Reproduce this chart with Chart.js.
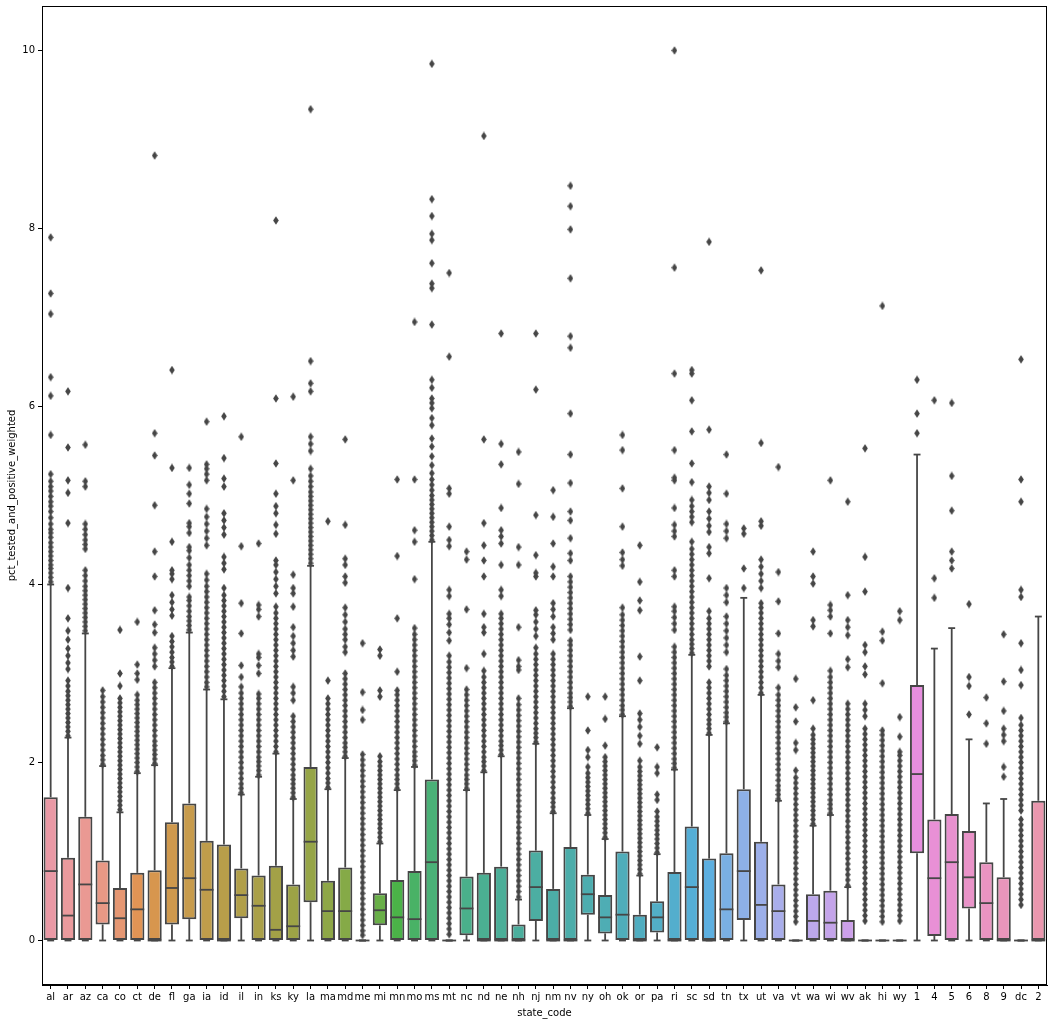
<!DOCTYPE html>
<html>
<head>
  <meta charset="UTF-8">
  <title>pct_tested_and_positive_weighted by state_code</title>
  <script src="https://cdn.jsdelivr.net/npm/chart.js"></script>
  <style>
    body { margin: 0; background: #fff; }
  </style>
</head>
<body>
  <canvas id="boxChart" width="1053" height="1024"></canvas>

  <script>
    // categories and box statistics
    const labels = ['al','ar','az','ca','co','ct','de','fl','ga','ia','id','il','in','ks','ky','la','ma','md','me','mi',
      'mn','mo','ms','mt','nc','nd','ne','nh','nj','nm','nv','ny','oh','ok','or','pa','ri','sc','sd','tn',
      'tx','ut','va','vt','wa','wi','wv','ak','hi','wy','1','4','5','6','8','9','dc','2'];
    const q1 = [0,0,0,0.18,0,0,0,0.18,0.24,0, 0,0.25,0,0,0,0.43,0,0,0,0.17,
      0,0,0,0,0.06,0,0,0,0.22,0, 0,0.29,0.08,0,0,0.09,0,0,0,0,
      0.23,0,0,0,0,0,0,0,0,0, 0.98,0.05,0,0.36,0,0,0,0];
    const median = [0.78,0.28,0.63,0.42,0.25,0.35,0,0.59,0.70,0.57, 0,0.51,0.39,0.12,0.16,1.11,0.33,0.33,0,0.34,
      0.26,0.24,0.88,0,0.36,0,0,0,0.60,0, 0,0.52,0.26,0.29,0,0.26,0,0.60,0,0.35,
      0.78,0.40,0.33,0,0.22,0.20,0,0,0,0, 1.87,0.70,0.88,0.71,0.42,0,0,0];
    const q3 = [1.61,0.93,1.39,0.90,0.59,0.76,0.79,1.33,1.54,1.12, 1.08,0.81,0.73,0.84,0.63,1.95,0.67,0.82,0,0.53,
      0.68,0.78,1.81,0,0.72,0.76,0.83,0.18,1.01,0.58, 1.05,0.74,0.51,1.00,0.29,0.44,0.77,1.28,0.92,0.98,
      1.70,1.11,0.63,0,0.52,0.56,0.23,0,0,0, 2.87,1.36,1.42,1.23,0.88,0.71,0,1.57];
    const whiskerLow = labels.map(() => 0);
    const whiskerHigh = [4.00,2.28,3.45,1.96,1.44,1.88,1.97,3.06,3.46,2.82, 2.71,1.64,1.84,2.10,1.59,4.21,1.70,2.05,0,1.09,
      1.69,1.95,4.48,0,1.69,1.89,2.07,0.46,2.21,1.43, 2.61,1.41,1.14,2.52,0.73,0.97,1.92,3.21,2.31,2.44,
      3.85,2.76,1.57,0,1.29,1.41,0.60,0,0,0, 5.46,3.28,3.51,2.26,1.54,1.59,0,3.64];

    // outlier values per category, same order as labels
    const fliers = [
      [4.03,4.08,4.13,4.18,4.22,4.27,4.32,4.37,4.42,4.47,4.53,4.58,4.62,4.68,4.75,4.82,4.88,4.93,4.99,5.05,5.10,5.16,5.24,5.68,6.12,6.33,7.04,7.27,7.90],
      [2.30,2.35,2.40,2.45,2.50,2.55,2.60,2.65,2.70,2.75,2.80,2.86,2.92,3.05,3.12,3.20,3.28,3.38,3.48,3.62,3.96,4.69,5.03,5.17,5.54,6.17],
      [3.48,3.53,3.58,3.63,3.68,3.73,3.78,3.83,3.88,3.93,3.98,4.04,4.10,4.16,4.40,4.45,4.50,4.56,4.62,4.68,5.10,5.16,5.57],
      [1.98,2.03,2.08,2.14,2.20,2.26,2.32,2.38,2.44,2.50,2.56,2.62,2.68,2.74,2.81],
      [1.47,1.52,1.57,1.62,1.67,1.72,1.77,1.82,1.87,1.92,1.97,2.02,2.07,2.12,2.17,2.22,2.27,2.32,2.37,2.42,2.47,2.52,2.57,2.62,2.67,2.72,2.86,3.00,3.49],
      [1.90,1.95,2.00,2.05,2.10,2.15,2.20,2.25,2.30,2.35,2.40,2.45,2.50,2.55,2.60,2.65,2.70,2.76,2.93,3.00,3.10,3.58],
      [1.99,2.04,2.09,2.14,2.19,2.24,2.30,2.36,2.42,2.48,2.54,2.60,2.66,2.72,2.78,2.84,2.90,3.08,3.15,3.22,3.29,3.46,3.55,3.71,4.09,4.37,4.89,5.45,5.70,8.82],
      [3.08,3.13,3.18,3.24,3.30,3.36,3.42,3.65,3.72,3.80,3.88,4.06,4.12,4.16,4.48,5.31,6.41],
      [3.49,3.54,3.59,3.64,3.70,3.76,3.82,3.86,3.98,4.04,4.10,4.16,4.22,4.30,4.38,4.42,4.58,4.65,4.69,4.91,5.02,5.12,5.31],
      [2.85,2.90,2.96,3.02,3.08,3.14,3.20,3.26,3.32,3.38,3.44,3.50,3.56,3.62,3.68,3.74,3.80,3.86,3.92,3.98,4.05,4.12,4.44,4.52,4.60,4.68,4.76,4.85,5.17,5.24,5.30,5.35,5.83],
      [2.74,2.80,2.86,2.92,2.98,3.04,3.10,3.16,3.22,3.28,3.34,3.40,3.46,3.52,3.58,3.64,3.70,3.76,3.82,3.88,3.96,4.17,4.24,4.31,4.56,4.64,4.72,4.80,5.10,5.19,5.42,5.89],
      [1.66,1.71,1.76,1.82,1.88,1.94,2.00,2.06,2.12,2.18,2.24,2.30,2.36,2.42,2.48,2.54,2.60,2.66,2.72,2.78,2.85,2.96,3.09,3.45,3.79,4.43,5.66],
      [1.86,1.91,1.96,2.01,2.06,2.12,2.18,2.24,2.30,2.36,2.42,2.48,2.54,2.60,2.66,2.72,2.77,3.00,3.09,3.18,3.22,3.64,3.72,3.77,4.46],
      [2.12,2.18,2.24,2.30,2.36,2.42,2.48,2.54,2.60,2.66,2.72,2.78,2.84,2.90,2.96,3.02,3.08,3.14,3.20,3.26,3.32,3.38,3.44,3.50,3.56,3.62,3.68,3.75,3.90,3.98,4.06,4.14,4.22,4.27,4.57,4.67,4.80,4.88,5.02,5.36,6.09,8.09],
      [1.61,1.66,1.71,1.76,1.81,1.86,1.92,1.98,2.04,2.10,2.16,2.22,2.28,2.34,2.40,2.46,2.52,2.70,2.78,2.85,3.19,3.26,3.34,3.42,3.52,3.75,3.90,3.96,4.11,5.17,6.11],
      [4.24,4.29,4.34,4.39,4.44,4.49,4.54,4.59,4.64,4.69,4.74,4.79,4.84,4.89,4.94,4.99,5.04,5.10,5.16,5.22,5.30,5.50,5.58,5.66,6.17,6.26,6.51,9.34],
      [1.72,1.77,1.82,1.88,1.94,2.00,2.06,2.12,2.18,2.24,2.30,2.36,2.42,2.48,2.54,2.60,2.66,2.72,2.92,4.71],
      [2.07,2.12,2.17,2.22,2.28,2.34,2.40,2.46,2.52,2.58,2.64,2.70,2.76,2.82,2.88,2.94,3.00,3.24,3.30,3.38,3.44,3.50,3.58,3.66,3.74,4.02,4.09,4.22,4.29,4.67,5.63],
      [0.06,0.11,0.17,0.23,0.29,0.35,0.41,0.47,0.53,0.59,0.65,0.71,0.77,0.83,0.89,0.95,1.01,1.07,1.13,1.19,1.25,1.31,1.37,1.43,1.49,1.55,1.61,1.67,1.73,1.79,1.85,1.91,1.97,2.03,2.09,2.48,2.59,2.79,3.34],
      [1.11,1.16,1.21,1.26,1.31,1.36,1.41,1.46,1.51,1.56,1.61,1.66,1.71,1.76,1.81,1.86,1.91,1.96,2.01,2.07,2.74,2.81,3.20,3.27],
      [1.71,1.76,1.81,1.86,1.92,1.98,2.04,2.10,2.16,2.22,2.28,2.34,2.40,2.46,2.52,2.58,2.64,2.70,2.76,2.81,3.02,3.62,4.32,5.18],
      [1.97,2.02,2.07,2.12,2.18,2.24,2.30,2.36,2.42,2.48,2.54,2.60,2.66,2.72,2.78,2.84,2.90,2.96,3.02,3.08,3.14,3.20,3.26,3.32,3.38,3.44,3.51,4.06,4.48,4.61,5.18,6.95],
      [4.50,4.55,4.60,4.65,4.70,4.75,4.80,4.85,4.90,4.95,5.00,5.06,5.12,5.18,5.25,5.34,5.44,5.55,5.64,5.79,5.87,5.98,6.04,6.09,6.21,6.30,6.92,7.33,7.38,7.61,7.87,7.94,8.14,8.33,9.85],
      [0.07,0.13,0.19,0.25,0.31,0.37,0.43,0.49,0.55,0.61,0.67,0.73,0.79,0.85,0.91,0.97,1.03,1.09,1.15,1.21,1.27,1.33,1.39,1.45,1.51,1.57,1.63,1.69,1.75,1.81,1.87,1.93,1.99,2.05,2.11,2.17,2.23,2.29,2.35,2.41,2.47,2.53,2.59,2.65,2.71,2.77,2.83,2.89,2.95,3.01,3.07,3.13,3.20,3.37,3.46,3.55,3.62,3.67,3.87,3.94,4.43,4.50,4.65,5.02,5.08,6.56,7.50],
      [1.71,1.76,1.81,1.86,1.92,1.98,2.04,2.10,2.16,2.22,2.28,2.34,2.40,2.46,2.52,2.58,2.64,2.70,2.76,2.82,3.06,3.72,4.28,4.37],
      [1.91,1.96,2.01,2.06,2.12,2.18,2.24,2.30,2.36,2.42,2.48,2.54,2.60,2.66,2.72,2.78,2.84,2.90,2.96,3.03,3.22,3.46,3.52,3.67,4.09,4.27,4.44,4.69,5.63,9.04],
      [2.09,2.14,2.19,2.24,2.30,2.36,2.42,2.48,2.54,2.60,2.66,2.72,2.78,2.84,2.90,2.96,3.02,3.08,3.14,3.20,3.26,3.32,3.38,3.44,3.50,3.56,3.62,3.67,3.87,3.94,4.22,4.46,4.54,4.61,4.86,5.35,5.58,6.82],
      [0.49,0.55,0.61,0.67,0.73,0.79,0.85,0.91,0.97,1.03,1.09,1.15,1.21,1.27,1.33,1.39,1.45,1.51,1.57,1.63,1.69,1.75,1.81,1.87,1.93,1.99,2.05,2.11,2.17,2.23,2.29,2.35,2.41,2.47,2.53,2.59,2.65,2.72,3.04,3.08,3.15,3.52,4.22,4.42,5.13,5.49],
      [2.23,2.28,2.33,2.38,2.44,2.50,2.56,2.62,2.68,2.74,2.80,2.86,2.92,2.98,3.04,3.10,3.16,3.22,3.29,3.42,3.50,3.58,3.66,3.71,4.09,4.13,4.33,4.78,6.19,6.82],
      [1.45,1.50,1.55,1.60,1.66,1.72,1.78,1.84,1.90,1.96,2.02,2.08,2.14,2.20,2.26,2.32,2.38,2.44,2.50,2.56,2.62,2.68,2.74,2.80,2.86,2.92,2.98,3.04,3.10,3.16,3.22,3.38,3.45,3.52,3.64,3.72,3.79,4.09,4.20,4.46,4.76,5.06],
      [2.63,2.68,2.73,2.78,2.84,2.90,2.96,3.02,3.08,3.14,3.20,3.26,3.32,3.37,3.49,3.55,3.61,3.67,3.73,3.79,3.85,3.91,3.97,4.03,4.09,4.27,4.35,4.52,4.72,4.82,5.14,5.46,5.92,6.66,6.79,7.44,7.99,8.25,8.48],
      [1.43,1.48,1.53,1.58,1.63,1.68,1.73,1.78,1.83,1.88,1.95,2.06,2.14,2.36,2.74],
      [1.16,1.21,1.26,1.31,1.36,1.41,1.46,1.51,1.56,1.61,1.66,1.71,1.76,1.81,1.86,1.91,1.96,2.01,2.06,2.19,2.49,2.74],
      [2.54,2.59,2.64,2.70,2.76,2.82,2.88,2.94,3.00,3.06,3.12,3.18,3.24,3.30,3.36,3.42,3.48,3.54,3.60,3.66,3.74,4.21,4.28,4.36,4.65,5.08,5.51,5.68],
      [0.75,0.80,0.85,0.90,0.95,1.00,1.05,1.10,1.15,1.20,1.25,1.30,1.35,1.40,1.45,1.50,1.55,1.60,1.65,1.70,1.75,1.80,1.85,1.90,1.95,2.02,2.21,2.30,2.40,2.48,2.55,2.92,3.19,3.71,3.82,4.03,4.44],
      [0.99,1.04,1.09,1.14,1.19,1.24,1.29,1.34,1.39,1.45,1.58,1.64,1.88,1.95,2.17],
      [1.94,1.99,2.04,2.10,2.16,2.22,2.28,2.34,2.40,2.46,2.52,2.58,2.64,2.70,2.76,2.82,2.88,2.94,3.00,3.06,3.12,3.18,3.24,3.30,3.49,3.56,3.63,3.70,3.75,4.09,4.16,4.54,4.60,4.67,4.86,5.17,5.20,5.51,6.37,7.56,10.0],
      [3.23,3.28,3.33,3.38,3.44,3.50,3.56,3.62,3.68,3.74,3.80,3.86,3.92,3.98,4.04,4.10,4.16,4.22,4.28,4.34,4.40,4.48,4.70,4.76,4.82,4.88,4.95,5.15,5.36,5.72,6.07,6.37,6.41],
      [2.33,2.38,2.43,2.48,2.54,2.60,2.66,2.72,2.78,2.84,2.90,3.08,3.14,3.20,3.26,3.32,3.38,3.44,3.50,3.56,3.62,3.70,4.07,4.35,4.42,4.59,4.66,4.74,4.82,4.95,5.03,5.10,5.74,7.85],
      [2.46,2.51,2.56,2.62,2.68,2.74,2.80,2.86,2.92,2.98,3.05,3.24,3.32,3.40,3.48,3.56,3.64,3.80,3.88,3.96,4.52,4.60,4.68,5.02,5.46],
      [3.96,4.18,4.57,4.63],
      [2.78,2.84,2.90,2.96,3.02,3.08,3.14,3.20,3.26,3.32,3.38,3.44,3.50,3.56,3.62,3.68,3.74,3.79,3.96,4.04,4.12,4.20,4.28,4.66,4.71,5.59,7.53],
      [1.59,1.64,1.69,1.74,1.80,1.86,1.92,1.98,2.04,2.10,2.16,2.22,2.28,2.34,2.40,2.46,2.52,2.58,2.64,2.70,2.76,2.84,3.07,3.14,3.22,3.45,3.81,4.14,5.32],
      [0.21,0.27,0.33,0.39,0.45,0.51,0.57,0.63,0.69,0.75,0.81,0.87,0.93,0.99,1.05,1.11,1.17,1.23,1.29,1.35,1.41,1.47,1.53,1.59,1.65,1.71,1.77,1.83,1.91,2.14,2.22,2.46,2.62,2.94],
      [1.31,1.36,1.41,1.46,1.51,1.56,1.61,1.66,1.71,1.76,1.81,1.86,1.91,1.96,2.01,2.06,2.11,2.16,2.21,2.26,2.31,2.38,2.70,3.53,3.60,4.01,4.09,4.37],
      [1.43,1.48,1.53,1.58,1.64,1.70,1.76,1.82,1.88,1.94,2.00,2.06,2.12,2.18,2.24,2.30,2.36,2.42,2.48,2.54,2.60,2.66,2.72,2.78,2.84,2.90,2.96,3.03,3.45,3.64,3.71,3.77,5.17],
      [0.62,0.68,0.74,0.80,0.86,0.92,0.98,1.04,1.10,1.16,1.22,1.28,1.34,1.40,1.46,1.52,1.58,1.64,1.70,1.76,1.82,1.88,1.94,2.00,2.06,2.12,2.18,2.24,2.30,2.36,2.42,2.48,2.54,2.60,2.66,3.07,3.16,3.43,3.52,3.60,3.88,4.93],
      [0.22,0.28,0.34,0.40,0.46,0.52,0.58,0.64,0.70,0.76,0.82,0.88,0.94,1.00,1.06,1.12,1.18,1.24,1.30,1.36,1.42,1.48,1.54,1.60,1.66,1.72,1.78,1.84,1.90,1.96,2.02,2.08,2.14,2.20,2.26,2.32,2.38,2.52,2.59,2.66,2.99,3.08,3.24,3.32,3.92,4.31,5.53],
      [0.21,0.27,0.33,0.39,0.45,0.51,0.57,0.63,0.69,0.75,0.81,0.87,0.93,0.99,1.05,1.11,1.17,1.23,1.29,1.35,1.41,1.47,1.53,1.59,1.65,1.71,1.77,1.83,1.89,1.95,2.01,2.07,2.13,2.19,2.25,2.31,2.36,2.89,3.37,3.47,7.13],
      [0.22,0.28,0.34,0.40,0.46,0.52,0.58,0.64,0.70,0.76,0.82,0.88,0.94,1.00,1.06,1.12,1.18,1.24,1.30,1.36,1.42,1.48,1.54,1.60,1.66,1.72,1.78,1.84,1.90,1.96,2.02,2.08,2.12,2.29,2.51,3.60,3.70],
      [5.70,5.92,6.30],
      [3.85,4.07,6.07],
      [4.18,4.27,4.37,4.83,5.22,6.04],
      [2.54,2.86,2.96,3.78],
      [2.21,2.44,2.73],
      [1.84,1.95,2.24,2.31,2.38,2.58,2.91,3.44],
      [0.40,0.46,0.52,0.58,0.64,0.70,0.76,0.82,0.88,0.94,1.00,1.06,1.12,1.18,1.24,1.30,1.36,1.46,1.52,1.58,1.64,1.70,1.76,1.82,1.88,1.94,2.00,2.06,2.12,2.18,2.24,2.30,2.36,2.42,2.50,2.87,3.04,3.34,3.86,3.94,4.93,5.18,6.53],
      []
    ];
    const yTicks = [0, 2, 4, 6, 8, 10];

    // seaborn-style husl palette (l=.7) desaturated to .75
    const M = [[3.2406, -1.5372, -0.4986], [-0.9689, 1.8758, 0.0415], [0.0557, -0.2040, 1.0570]];
    function maxChroma(L, H) {
      const hr = H / 360 * 2 * Math.PI, sinH = Math.sin(hr), cosH = Math.cos(hr);
      const sub1 = Math.pow(L + 16, 3) / 1560896;
      const sub2 = sub1 > 0.008856 ? sub1 : L / 903.3;
      let result = Infinity;
      M.forEach(([m1, m2, m3]) => {
        const top = (0.99915 * m1 + 1.05122 * m2 + 1.14460 * m3) * sub2;
        const rb = 0.86330 * m3 - 0.17266 * m2;
        const lb = 0.12949 * m3 - 0.38848 * m1;
        const bottom = (rb * sinH + lb * cosH) * sub2;
        [0, 1].forEach(t => {
          const C = L * (top - 1.05122 * t) / (bottom + 0.17266 * sinH * t);
          if (C > 0 && C < result) result = C;
        });
      });
      return result;
    }
    function huslToRgb(H, S, L) {
      const C = maxChroma(L, H) / 100 * S;
      const hr = H / 360 * 2 * Math.PI;
      const U = C * Math.cos(hr), V = C * Math.sin(hr);
      const t = (L + 16) / 116;
      const varY = Math.pow(t, 3) > 0.008856 ? Math.pow(t, 3) : (116 * t - 16) / 903.3;
      const varU = U / (13 * L) + 0.19784, varV = V / (13 * L) + 0.46834;
      const Y = varY;
      const X = -(9 * Y * varU) / ((varU - 4) * varV - varU * varV);
      const Z = (9 * Y - 15 * varV * Y - varV * X) / (3 * varV);
      return M.map(r => {
        const c = r[0] * X + r[1] * Y + r[2] * Z;
        const v = c <= 0.0031308 ? 12.92 * c : 1.055 * Math.pow(c, 1 / 2.4) - 0.055;
        return Math.min(1, Math.max(0, v));
      });
    }
    function rgbToHls(r, g, b) {
      const mx = Math.max(r, g, b), mn = Math.min(r, g, b);
      const l = (mx + mn) / 2;
      if (mx === mn) return [0, l, 0];
      const s = l <= 0.5 ? (mx - mn) / (mx + mn) : (mx - mn) / (2 - mx - mn);
      const rc = (mx - r) / (mx - mn), gc = (mx - g) / (mx - mn), bc = (mx - b) / (mx - mn);
      let h = r === mx ? bc - gc : g === mx ? 2 + rc - bc : 4 + gc - rc;
      h = ((h / 6) % 1 + 1) % 1;
      return [h, l, s];
    }
    function hlsToRgb(h, l, s) {
      if (s === 0) return [l, l, l];
      const m2 = l <= 0.5 ? l * (1 + s) : l + s - l * s;
      const m1 = 2 * l - m2;
      const v = hue => {
        hue = ((hue % 1) + 1) % 1;
        if (hue < 1 / 6) return m1 + (m2 - m1) * hue * 6;
        if (hue < 0.5) return m2;
        if (hue < 2 / 3) return m1 + (m2 - m1) * (2 / 3 - hue) * 6;
        return m1;
      };
      return [v(h + 1 / 3), v(h), v(h - 1 / 3)];
    }
    const toCss = c => 'rgb(' + c.map(v => Math.round(v * 255)).join(',') + ')';

    const n = labels.length;
    const rawColors = labels.map((_, i) => huslToRgb(((i / n + 0.01) % 1) * 359, 0.9 * 99, 0.7 * 100));
    const lum = Math.min(...rawColors.map(c => rgbToHls(...c)[1])) * 0.6;
    const gray = toCss([lum, lum, lum]);
    const boxColors = rawColors.map(c => {
      const [h, l, s] = rgbToHls(...c);
      return toCss(hlsToRgb(h, l, s * 0.75));
    });

    // thin diamond marker for fliers
    const diamond = document.createElement('canvas');
    diamond.width = 6; diamond.height = 9;
    const dctx = diamond.getContext('2d');
    dctx.fillStyle = gray;
    dctx.beginPath();
    dctx.moveTo(3, 0.2); dctx.lineTo(5.8, 4.5); dctx.lineTo(3, 8.8); dctx.lineTo(0.2, 4.5);
    dctx.closePath(); dctx.fill();

    const flierPoints = [];
    fliers.forEach((vals, i) => vals.forEach(v => flierPoints.push({ x: labels[i], y: v })));

    // whiskers, caps, medians and the frame
    const boxParts = {
      id: 'boxParts',
      afterDatasetsDraw(chart) {
        const { ctx, chartArea } = chart;
        const xs = chart.scales.x, ys = chart.scales.y;
        const bw = (xs.getPixelForValue(1) - xs.getPixelForValue(0)) * 0.8;
        ctx.save();
        ctx.strokeStyle = gray;
        ctx.lineWidth = 1.8;
        const seg = (x1, y1, x2, y2) => { ctx.beginPath(); ctx.moveTo(x1, y1); ctx.lineTo(x2, y2); ctx.stroke(); };
        labels.forEach((lab, i) => {
          const cx = xs.getPixelForValue(i);
          seg(cx, ys.getPixelForValue(q3[i]), cx, ys.getPixelForValue(whiskerHigh[i]));
          seg(cx, ys.getPixelForValue(q1[i]), cx, ys.getPixelForValue(whiskerLow[i]));
          seg(cx - bw / 4, ys.getPixelForValue(whiskerHigh[i]), cx + bw / 4, ys.getPixelForValue(whiskerHigh[i]));
          seg(cx - bw / 4, ys.getPixelForValue(whiskerLow[i]), cx + bw / 4, ys.getPixelForValue(whiskerLow[i]));
          seg(cx - bw / 2, ys.getPixelForValue(median[i]), cx + bw / 2, ys.getPixelForValue(median[i]));
        });
        ctx.strokeStyle = '#000';
        ctx.lineWidth = 1;
        ctx.strokeRect(chartArea.left + 0.5, chartArea.top + 0.5, chartArea.right - chartArea.left - 1, chartArea.bottom - chartArea.top - 1);
        ctx.restore();
      }
    };

    const tickFont = { family: 'DejaVu Sans', size: 10 };

    new Chart(document.getElementById('boxChart').getContext('2d'), {
      type: 'bar',
      data: {
        labels: labels,
        datasets: [
          {
            type: 'line',
            data: flierPoints,
            showLine: false,
            pointStyle: diamond,
            pointRadius: 4,
            order: 0
          },
          {
            data: labels.map((_, i) => [q1[i], q3[i]]),
            backgroundColor: boxColors,
            borderColor: gray,
            borderWidth: 2,
            borderSkipped: false,
            barPercentage: 0.82,
            categoryPercentage: 1.0,
            order: 1
          }
        ]
      },
      options: {
        responsive: false,
        animation: false,
        layout: { padding: { top: 6, right: 6, left: 0, bottom: 0 } },
        plugins: { legend: { display: false }, tooltip: { enabled: false } },
        scales: {
          x: {
            type: 'category',
            offset: true,
            grid: { offset: false, drawOnChartArea: false, tickLength: 4, color: '#000' },
            border: { color: '#000' },
            ticks: { color: '#000', font: tickFont, autoSkip: false, maxRotation: 0, padding: 2 },
            title: { display: true, text: 'state_code', color: '#000', font: tickFont, padding: { top: 2, bottom: 5 } },
            afterFit: s => { s.height = 39; }
          },
          y: {
            min: -0.5,
            max: 10.5,
            grid: { drawOnChartArea: false, tickLength: 4, color: '#000' },
            border: { color: '#000' },
            ticks: { color: '#000', font: tickFont, padding: 3 },
            afterBuildTicks: s => { s.ticks = yTicks.map(v => ({ value: v })); },
            title: { display: true, text: 'pct_tested_and_positive_weighted', color: '#000', font: tickFont, padding: { top: 6, bottom: 0 } },
            afterFit: s => { s.width = 42; s.paddingTop = 0; s.paddingBottom = 0; }
          }
        }
      },
      plugins: [boxParts]
    });
  </script>
</body>
</html>
